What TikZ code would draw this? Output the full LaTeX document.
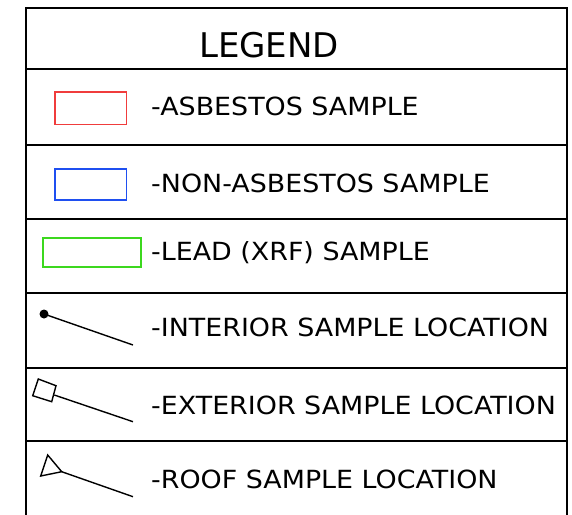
\documentclass[tikz,border=0pt]{standalone}
\usepackage{fontspec}
\setmainfont{DejaVu Sans}
\definecolor{sred}{HTML}{F03C3C}
\definecolor{sblue}{HTML}{1F4FF0}
\definecolor{sgreen}{HTML}{3CD81E}
\newcommand{\itm}[1]{\scalebox{1.075}[1]{#1}}
\begin{document}
\begin{tikzpicture}[x=1pt,y=-1pt,
  frame/.style={line width=2pt,black},
  sample/.style={line width=1.5pt},
  sym/.style={line width=1.4pt,black},
  itemtext/.style={anchor=base west,inner sep=0pt,font=\fontsize{25}{30}\selectfont},
  title/.style={anchor=base,inner sep=0pt,font=\fontsize{34}{40}\selectfont}]
\useasboundingbox (0,0) rectangle (572,514);
% frame
\draw[frame] (26,520) -- (26,7.5) -- (567,7.5) -- (567,520);
\foreach \yy in {69,145,219,293,368,441}
  \draw[frame] (26,\yy) -- (567,\yy);
% title
\node[title] (legend) at (269,57) {LEGEND};
% sample boxes
\draw[sample,sred] (55,92) rectangle (126.5,124.5);
\draw[sample,sblue] (55,169) rectangle (126.5,200);
\draw[sample,sgreen] (43,238) rectangle (141,267);
\node[itemtext] (t1) at (151,115.7) {\itm{-ASBESTOS SAMPLE}};
\node[itemtext] (t2) at (151,192) {\itm{-NON-ASBESTOS SAMPLE}};
\node[itemtext] (t3) at (151,260) {\itm{-LEAD (XRF) SAMPLE}};
\node[itemtext] (t4) at (151,336.7) {\itm{-INTERIOR SAMPLE LOCATION}};
\node[itemtext] (t5) at (151,414) {\itm{-EXTERIOR SAMPLE LOCATION}};
\node[itemtext] (t6) at (151,488) {\itm{-ROOF SAMPLE LOCATION}};
% interior symbol
\coordinate (i1) at (44,314);
\coordinate (i2) at (133,345);
\fill (i1) circle (4.5);
\draw[sym] (i1) -- (i2);
% exterior symbol
\coordinate (e1) at (54.3,395);
\coordinate (e2) at (133,421.7);
\draw[sym] (38.3,379) -- (56,385.7) -- (51.7,401.7) -- (32.7,395.7) -- cycle;
\draw[sym] (e1) -- (e2);
% roof symbol
\coordinate (r1) at (61.7,471.7);
\coordinate (r2) at (133,496.7);
\draw[sym] (47.7,455) -- (40.7,476) -- (r1) -- cycle;
\draw[sym] (r1) -- (r2);
\end{tikzpicture}
\end{document}
